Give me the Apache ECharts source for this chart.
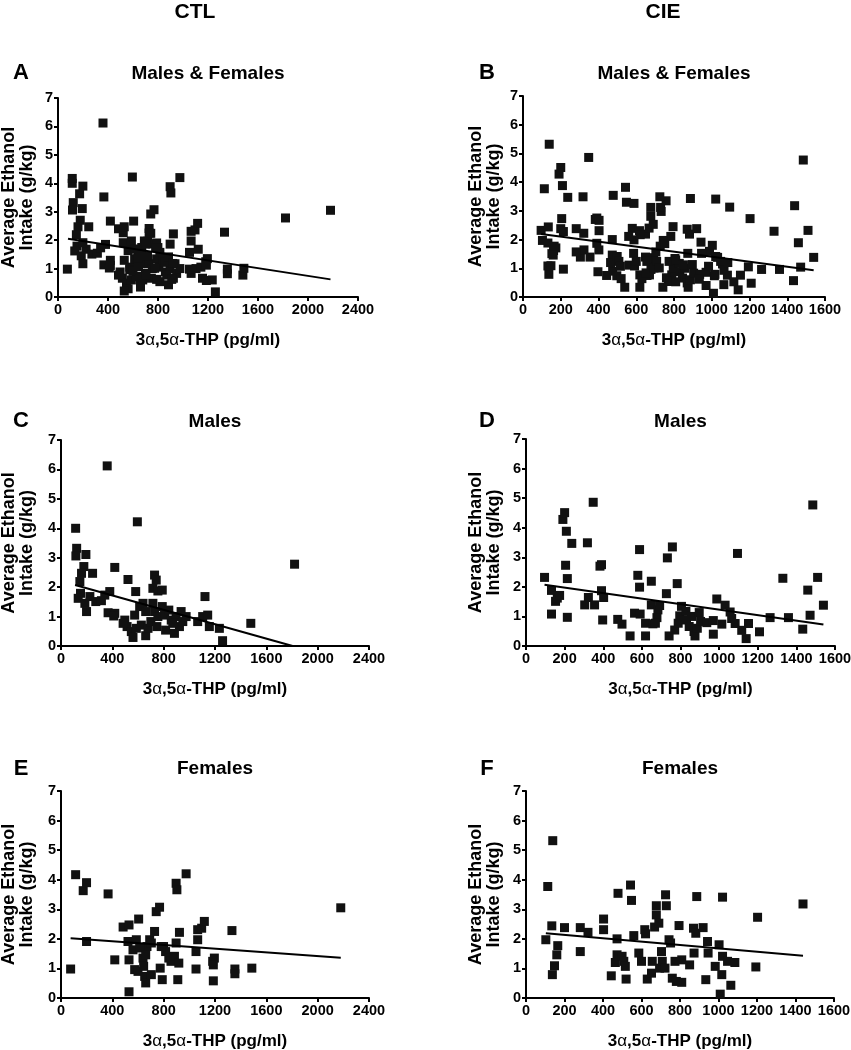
<!DOCTYPE html>
<html>
<head>
<meta charset="utf-8">
<script src="https://cdn.jsdelivr.net/npm/echarts@6/dist/echarts.min.js"></script>
<style>
html,body{margin:0;padding:0;background:#fff;}
#chart{width:851px;height:1050px;}
</style>
</head>
<body>
<div id="chart"></div>
<script>
// ---- Data ----
const headers = ['CTL', 'CIE'];
const panelLetters = ['A', 'B', 'C', 'D', 'E', 'F'];
const panelTitles = ['Males & Females', 'Males & Females', 'Males', 'Males', 'Females', 'Females'];
const yTitleLines = ['Average Ethanol', 'Intake (g/kg)'];
const ctlTicksMax = 2400, ctlTickStep = 400;
const cieTicksMax = 1600, cieTickStep = 200;
const yMax = 7, yStep = 1;

// CTL males (panel C)
const ctlMales = [[114,4.0],[122,3.32],[116,3.06],[194,3.11],[178,2.7],[160,2.47],[147,2.19],[246,2.47],[360,6.12],[419,2.67],[595,4.22],[522,2.26],[729,2.41],[742,2.24],[582,1.85],[716,1.96],[755,1.87],[789,1.9],[1122,1.68],[380,1.85],[152,1.79],[134,1.62],[186,1.45],[225,1.68],[271,1.51],[315,1.54],[341,1.73],[199,1.17],[367,1.13],[419,1.11],[411,1.02],[497,0.88],[515,0.66],[548,0.49],[561,0.29],[587,0.6],[574,1.05],[613,1.34],[639,1.45],[660,1.17],[626,0.71],[660,0.35],[678,0.6],[700,0.83],[729,1.17],[716,1.45],[755,1.0],[747,0.66],[789,1.34],[807,1.05],[815,0.54],[840,1.22],[859,0.88],[884,0.43],[897,1.0],[923,0.66],[936,1.17],[949,0.83],[975,1.0],[1065,0.83],[1104,1.0],[1143,1.05],[1156,0.66],[1234,0.6],[1259,0.18],[1479,0.77],[1820,2.78],[484,0.77],[871,0.77]];
// CTL females (panel E)
const ctlFemales = [[75,0.98],[114,4.17],[173,3.63],[199,3.9],[199,1.91],[367,3.52],[419,1.29],[484,2.4],[530,2.47],[605,2.67],[522,1.91],[530,1.29],[530,0.21],[561,1.63],[574,0.96],[587,1.97],[600,0.9],[639,1.35],[644,1.07],[652,0.73],[660,0.51],[670,1.74],[691,1.97],[704,0.79],[729,2.25],[742,2.92],[768,3.07],[773,1.01],[789,0.62],[799,1.74],[815,1.57],[840,1.35],[857,1.24],[884,1.41],[897,1.86],[897,3.88],[903,3.66],[923,2.22],[918,1.18],[910,0.62],[975,4.2],[1052,0.98],[1052,1.57],[1065,1.97],[1065,2.31],[1096,2.36],[1117,2.59],[1182,1.24],[1195,1.35],[1187,1.12],[1187,0.58],[1332,2.28],[1355,0.98],[1355,0.82],[1487,1.01],[2180,3.05],[781,1.74],[613,1.69],[660,1.46],[704,1.86]];
// CIE males (panel D)
const cieMales = [[96,2.32],[132,1.88],[132,1.08],[153,1.51],[162,1.62],[174,1.71],[191,4.28],[200,4.51],[209,3.88],[205,2.73],[214,2.28],[214,0.97],[237,3.47],[304,1.39],[318,3.49],[323,1.64],[348,4.86],[355,1.39],[383,2.7],[391,2.75],[391,1.87],[402,1.64],[397,0.88],[475,0.9],[497,0.74],[539,0.34],[562,1.11],[579,2.39],[588,3.26],[588,1.99],[591,1.08],[619,0.77],[619,0.34],[649,2.19],[649,1.39],[657,0.75],[683,1.22],[678,0.96],[692,1.37],[670,0.77],[727,1.77],[732,2.98],[758,3.35],[783,2.11],[741,0.34],[770,0.54],[788,0.77],[796,1.02],[805,1.34],[828,1.17],[831,0.88],[845,0.66],[857,1.0],[870,0.49],[875,0.34],[887,0.6],[897,1.13],[904,0.83],[936,0.79],[970,0.86],[970,0.4],[988,1.59],[1014,0.74],[1031,1.38],[1057,1.15],[1065,0.93],[1083,0.76],[1095,3.13],[1117,0.53],[1140,0.25],[1152,0.76],[1209,0.48],[1264,0.96],[1330,2.29],[1359,0.96],[1433,0.57],[1459,1.89],[1471,1.04],[1485,4.77],[1510,2.32],[1540,1.38]];
// CIE females (panel F)
const cieFemales = [[103,1.97],[113,3.77],[134,2.44],[137,0.79],[139,5.32],[148,1.09],[160,1.46],[165,1.77],[200,2.38],[282,2.38],[282,1.57],[322,2.22],[403,2.67],[403,2.31],[443,0.75],[473,2.0],[473,1.46],[464,1.2],[478,3.54],[499,1.41],[508,1.24],[516,1.07],[520,0.64],[543,3.82],[548,3.3],[560,2.11],[586,1.52],[600,1.24],[617,2.31],[621,2.17],[630,0.64],[656,1.24],[652,0.84],[668,2.4],[677,2.81],[677,3.12],[690,2.53],[694,1.01],[704,1.57],[708,1.24],[725,3.49],[729,3.12],[722,1.01],[743,1.97],[751,1.86],[760,0.67],[774,1.24],[781,0.56],[795,2.45],[809,1.29],[809,0.53],[850,1.12],[873,1.52],[870,2.36],[882,2.19],[887,3.43],[920,2.38],[934,0.62],[943,1.91],[946,1.52],[983,1.07],[1003,1.8],[1009,0.13],[1017,0.79],[1021,3.41],[1021,1.41],[1047,1.24],[1064,0.43],[1085,1.2],[1203,2.73],[1194,1.05],[1439,3.18]];

// Regression lines (end points)
const lineA = [[80,2.05],[2180,0.62]];
const lineB = [[96,2.19],[1540,0.93]];
const lineC = [[110,2.07],[1805,0]];
const lineD = [[96,2.07],[1540,0.73]];
const lineE = [[75,2.02],[2180,1.36]];
const lineF = [[103,2.19],[1439,1.43]];

// ---- Layout ----
const grids = [
  {left:58, top:98, width:300, height:199},
  {left:523, top:96, width:302, height:201},
  {left:61, top:440, width:308, height:206},
  {left:526, top:439, width:309, height:207},
  {left:61, top:791, width:308, height:207},
  {left:526, top:791, width:308, height:207}
];
const yNameGaps = [22, 20, 25, 23, 25, 23];
const letterPos = [[21,73],[487,73],[21,421],[487,421],[21,769],[487,769]];
const titleY = [74, 74, 422, 422, 769, 769];

const panelData = [ctlMales.concat(ctlFemales), cieMales.concat(cieFemales), ctlMales, cieMales, ctlFemales, cieFemales];
const panelLines = [lineA, lineB, lineC, lineD, lineE, lineF];

const FONT = "'Liberation Sans', Arial, Helvetica, sans-serif";
const TICKFONT = "'Liberation Sans Narrow', 'Arial Narrow', 'Liberation Sans', Arial, sans-serif";

const xAxes = [], yAxes = [], series = [], graphics = [];
grids.forEach((g, i) => {
  const isCTL = i % 2 === 0;
  xAxes.push({
    gridIndex: i, type: 'value', min: 0,
    max: isCTL ? ctlTicksMax : cieTicksMax,
    interval: isCTL ? ctlTickStep : cieTickStep,
    axisLine: {show: true, onZero: false, lineStyle: {color: '#000', width: 2}},
    axisTick: {show: true, length: 4, lineStyle: {color: '#000', width: 2}},
    axisLabel: {color: '#000', fontWeight: 'bold', fontSize: 14.5, fontFamily: TICKFONT, margin: 5,
      showMinLabel: true, showMaxLabel: true, hideOverlap: false,
      formatter: v => String(v)},
    splitLine: {show: false},
    name: '{n|3}{g|α}{n|,5}{g|α}{n|-THP (pg/ml)}',
    nameLocation: 'middle', nameGap: 35,
    nameTextStyle: {rich: {
      n: {fontFamily: FONT, fontWeight: 'bold', fontSize: 17, color: '#000'},
      g: {fontFamily: FONT, fontWeight: 'normal', fontSize: 17, color: '#000'}
    }}
  });
  yAxes.push({
    gridIndex: i, type: 'value', min: 0, max: yMax, interval: yStep,
    axisLine: {show: true, onZero: false, lineStyle: {color: '#000', width: 2}},
    axisTick: {show: true, length: 4, lineStyle: {color: '#000', width: 2}},
    axisLabel: {color: '#000', fontWeight: 'bold', fontSize: 14.5, fontFamily: TICKFONT, margin: 5,
      showMinLabel: true, showMaxLabel: true, hideOverlap: false,
      formatter: v => String(v)},
    splitLine: {show: false},
    name: yTitleLines.join('\n'),
    nameLocation: 'middle', nameGap: yNameGaps[i], nameRotate: 90,
    nameTextStyle: {fontFamily: FONT, fontWeight: 'bold', fontSize: 18, lineHeight: 18, color: '#000', align: 'center'}
  });
  series.push({
    type: 'scatter', xAxisIndex: i, yAxisIndex: i,
    data: panelData[i], symbol: 'rect', symbolSize: 9,
    itemStyle: {color: '#111', opacity: 1}, silent: true, z: 2
  });
  series.push({
    type: 'line', xAxisIndex: i, yAxisIndex: i,
    data: panelLines[i], showSymbol: false, symbol: 'none',
    lineStyle: {color: '#000', width: 2}, silent: true, z: 3, animation: false
  });
  graphics.push({
    type: 'text', x: letterPos[i][0], y: letterPos[i][1],
    style: {text: panelLetters[i], font: "bold 22px " + FONT, fill: '#000', align: 'center', verticalAlign: 'middle'}
  });
  graphics.push({
    type: 'text', x: g.left + g.width / 2, y: titleY[i],
    style: {text: panelTitles[i], font: "bold 19px " + FONT, fill: '#000', align: 'center', verticalAlign: 'middle'}
  });
});
graphics.push({type: 'text', x: 195, y: 12, style: {text: headers[0], font: "bold 21px " + FONT, fill: '#000', align: 'center', verticalAlign: 'middle'}});
graphics.push({type: 'text', x: 663, y: 12, style: {text: headers[1], font: "bold 21px " + FONT, fill: '#000', align: 'center', verticalAlign: 'middle'}});

const chart = echarts.init(document.getElementById('chart'), null, {renderer: 'canvas'});
chart.setOption({
  animation: false,
  backgroundColor: '#fff',
  grid: grids.map(g => Object.assign({containLabel: false, outerBoundsMode: 'none'}, g)),
  xAxis: xAxes,
  yAxis: yAxes,
  series: series,
  graphic: graphics
});
</script>
</body>
</html>
